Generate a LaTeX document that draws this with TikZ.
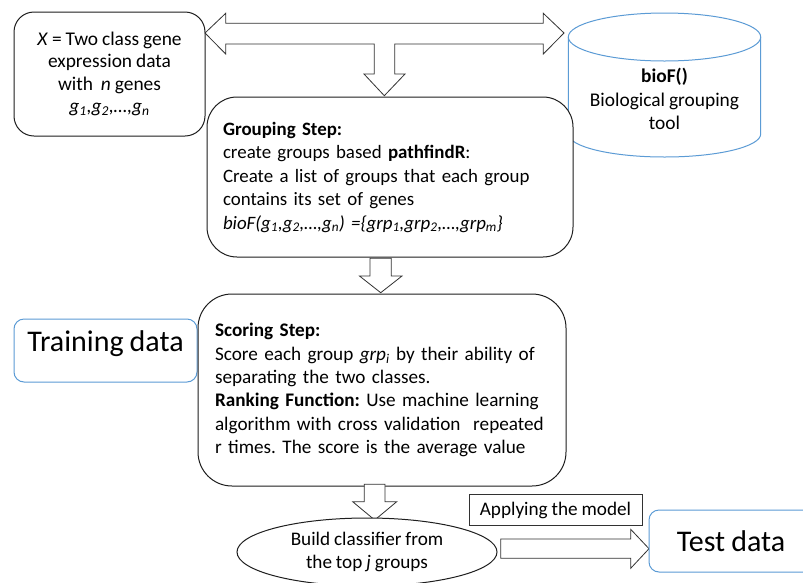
\documentclass[tikz,border=0pt]{standalone}
\usepackage{fontspec}
\setmainfont{Carlito}[WordSpace=0.9]
\frenchspacing
\usetikzlibrary{shapes.geometric}
\definecolor{accent}{RGB}{91,155,213}
\definecolor{frame}{RGB}{30,30,30}
\definecolor{arrowline}{RGB}{50,50,50}

\begin{document}
\begin{tikzpicture}[x=1pt,y=-1pt,
  txt/.style={font=\fontsize{19.2}{23.3}\selectfont},
  bigtxt/.style={font=\fontsize{30}{36}\selectfont},
  stepbox/.style={draw=frame, line width=1pt, fill=white, rounded corners=#1},
  bluebox/.style={draw=accent, line width=1pt, fill=white, rounded corners=10pt, bigtxt},
  blockarrow/.style={draw=arrowline, line width=0.8pt, fill=white, line join=miter}
]
% page area
\clip (0,0) rectangle (803,582);
\fill[white] (0,0) rectangle (803,582);

% input data
\node[stepbox=20pt, minimum width=191pt, minimum height=124pt, align=center,
      font=\fontsize{19.4}{22.4}\selectfont, inner sep=0pt] (input) at (109.5,74)
  {\textit{X} = Two class gene\\expression data\\with\ \ \textit{n} genes\\
   \textit{g\textsubscript{1},g\textsubscript{2},…,g\textsubscript{n}}};

% grouping tool (cylinder)
\draw[accent, line width=1pt, fill=white] (568.3,37) -- (568.3,134)
  arc[start angle=180, end angle=0, x radius=96.2, y radius=23] -- (760.7,37);
\draw[accent, line width=1pt] (664.5,37) ellipse [x radius=96.2, y radius=24];
\node[align=center, inner sep=0pt, font=\fontsize{19.4}{23.2}\selectfont] (biof) at (664.5,99)
  {\textbf{bioF()}\\Biological grouping\\tool};

% T-shaped block arrow between input, tool and grouping step
\draw[blockarrow] (205,33) -- (225.7,13.3) -- (225.7,23.3) -- (543.3,23.3)
  -- (543.3,13.3) -- (564,33) -- (543.3,54) -- (543.3,44) -- (394.7,44)
  -- (394.7,74) -- (405,74) -- (384.3,95.7) -- (364,74) -- (374.3,74)
  -- (374.3,44) -- (225.7,44) -- (225.7,54) -- cycle;

% grouping step
\node[stepbox=30pt, font=\fontsize{18.9}{23.5}\selectfont, minimum width=366pt, minimum height=160pt,
      text width=334pt, inner xsep=16pt, align=left] (group) at (390,177)
  {\textbf{Grouping Step:}\\
   create groups based \textbf{pathfindR}:\\
   Create a list of groups that each group\\
   contains its set of genes\\
   \textit{bioF(g\textsubscript{1},g\textsubscript{2},…,g\textsubscript{n}) =\{grp\textsubscript{1},grp\textsubscript{2},…,grp\textsubscript{m}\}}};

% grouping -> scoring
\draw[blockarrow] (370,258.3) -- (391.3,258.3) -- (391.3,276) -- (402,276)
  -- (380.7,292.7) -- (359.5,276) -- (370,276) -- cycle;

% training data label
\node[bluebox, minimum width=183pt, minimum height=63pt,
      text height=21pt, text depth=20pt] (train) at (105.5,350.5)
  {Training data};

% scoring step
\node[stepbox=34pt, txt, minimum width=368pt, minimum height=192pt,
      text width=334pt, inner xsep=17pt, align=left] (score) at (382,390)
  {\textbf{Scoring Step:}\\
   Score each group \textit{grp\textsubscript{i}} by their ability of\\
   separating the two classes.\\
   \textbf{Ranking Function:} Use machine learning\\
   algorithm with cross validation\ \ repeated\\
   r times. The score is the average value};

% scoring -> classifier
\draw[blockarrow] (364.3,484.3) -- (385,484.3) -- (385,501.7) -- (396.7,501.7)
  -- (374.7,520) -- (352.7,501.7) -- (364.3,501.7) -- cycle;

% classifier
\node[ellipse, draw=frame, line width=1pt, fill=white, txt, align=center,
      minimum width=260pt, minimum height=68pt, inner sep=0pt] (clf) at (367,552)
  {Build classifier from\\the top \textit{j} groups};

% applying the model
\node[draw=arrowline, line width=1pt, txt, minimum width=173pt, minimum height=31.5pt,
      inner sep=0pt] (apply) at (555.5,510) {Applying the model};

% classifier -> test data
\draw[blockarrow] (500.7,539) -- (630.7,539) -- (630.7,529.3) -- (649,548.7)
  -- (630.7,568.3) -- (630.7,558.3) -- (500.7,558.3) -- cycle;

% test data label
\node[bluebox, minimum width=164pt, minimum height=62pt] (test) at (731,541)
  {Test data};
\end{tikzpicture}
\end{document}
